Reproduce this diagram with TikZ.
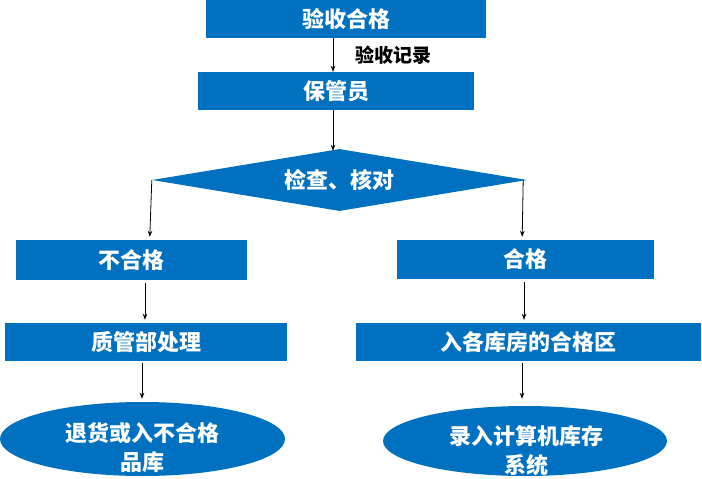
\documentclass[tikz,border=0pt]{standalone}
\usepackage{fontspec}
\setmainfont{Noto Sans CJK SC}
\usetikzlibrary{shapes.geometric,arrows.meta,calc}
\definecolor{boxblue}{HTML}{0070C0}
\begin{document}
\begin{tikzpicture}[x=1pt,y=-1pt,
  box/.style={rectangle,fill=boxblue,text=white,font=\bfseries\fontsize{22}{26}\selectfont,inner sep=0pt},
  oval/.style={ellipse,fill=boxblue,inner sep=0pt},
  ovaltext/.style={text=white,font=\bfseries\fontsize{22}{29}\selectfont,align=center,inner sep=0pt},
  arr/.style={-{Stealth[length=6pt,width=4.5pt]},line width=0.8pt,black}]
\useasboundingbox (0,0) rectangle (702,479);
\node[box,minimum width=280pt,minimum height=38pt] (ysheg) at (346,19) {验收合格};
\node[box,minimum width=276pt,minimum height=38pt] (bgy) at (336,91) {保管员};
\node[diamond,fill=boxblue,aspect=6,minimum width=375pt,minimum height=62pt,inner sep=0pt,text=white,font=\bfseries\fontsize{22}{26}\selectfont] (dia) at (339.5,180) {检查、核对};
\node[box,minimum width=231pt,minimum height=40pt] (bhg) at (131.5,260) {不合格};
\node[box,minimum width=257pt,minimum height=39pt] (hg) at (525.5,259.5) {合格};
\node[box,minimum width=282pt,minimum height=38pt] (zgb) at (146,342) {质管部处理};
\node[box,minimum width=345pt,minimum height=38pt] (rgkf) at (528.5,342) {入各库房的合格区};
\node[oval,minimum width=285pt,minimum height=74pt] (thov) at (142.5,439) {};
\node[ovaltext] (tht) at (142,447.5) {退货或入不合格\\品库};
\node[oval,minimum width=284pt,minimum height=70pt] (lrov) at (525,441) {};
\node[ovaltext] (lrt) at (526,450.5) {录入计算机库存\\系统};
\draw[arr] (ysheg.south -| 333,0) -- (bgy.north -| 333,0) node[midway,right=22pt,text=black,font=\bfseries\fontsize{19}{21}\selectfont,inner sep=0pt] (yslabel) {验收记录};
\draw[arr] (bgy.south -| 333,0) -- ([yshift=-2pt]dia.north -| 333,0);
\draw[arr] (dia.west) -- ($(dia.west |- bhg.north)+(-2,-3)$);
\draw[arr] ([xshift=-4pt]dia.east) -- ($(dia.east |- hg.north)+(-5,-3)$);
\draw[arr,shorten <=3pt,shorten >=3pt] (bhg.south -| 145,0) -- (zgb.north -| 145,0);
\draw[arr,shorten <=3pt,shorten >=3pt] (hg.south -| 524,0) -- (rgkf.north -| 524,0);
\draw[arr,shorten <=2pt,shorten >=3pt] (zgb.south -| 142,0) -- (thov.north -| 142,0);
\draw[arr,shorten <=2pt,shorten >=7pt] (rgkf.south -| 522,0) -- (lrov.north -| 522,0);
\end{tikzpicture}
\end{document}
